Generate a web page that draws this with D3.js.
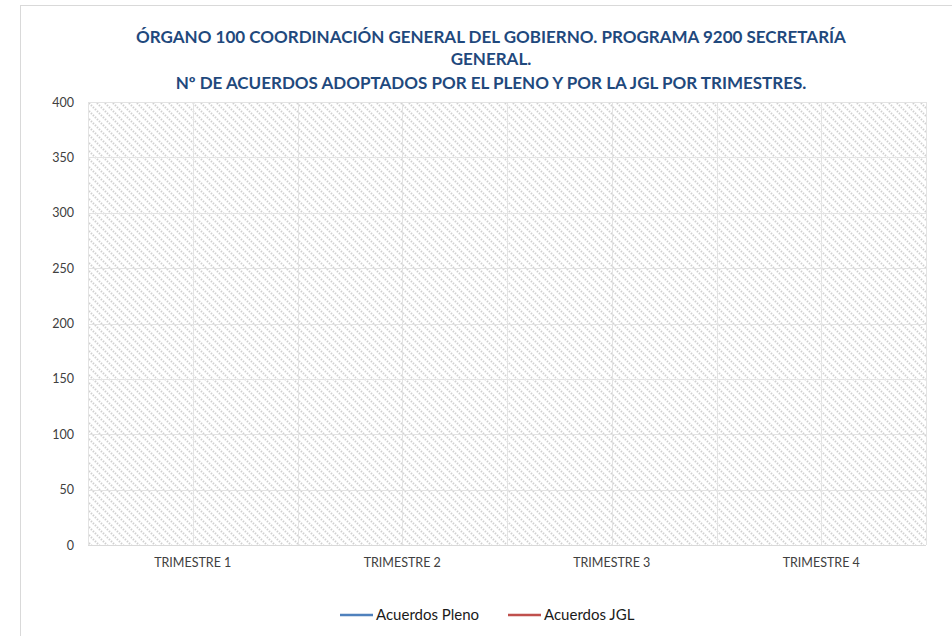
<!DOCTYPE html>
<html>
<head>
<meta charset="utf-8">
<script src="https://cdn.jsdelivr.net/npm/d3@7"></script>
<style>
  html, body { margin: 0; padding: 0; background: #fff; }
  svg { display: block; font-family: Lato, "Open Sans", sans-serif; }
</style>
</head>
<body>
<svg id="chart" width="952" height="636"></svg>
<script>
// Categories and series (the chart has no plotted values)
const categories = ["TRIMESTRE 1", "TRIMESTRE 2", "TRIMESTRE 3", "TRIMESTRE 4"];
const acuerdosPleno = [null, null, null, null];
const acuerdosJGL = [null, null, null, null];
const yTicks = [0, 50, 100, 150, 200, 250, 300, 350, 400];
const titleLines = [
  "ÓRGANO 100 COORDINACIÓN GENERAL DEL GOBIERNO. PROGRAMA 9200 SECRETARÍA",
  "GENERAL.",
  "Nº DE ACUERDOS ADOPTADOS POR EL PLENO Y POR LA JGL POR TRIMESTRES."
];
const seriesNames = ["Acuerdos Pleno", "Acuerdos JGL"];
const seriesColors = ["#4F81BD", "#C0504D"];

const margin = { top: 102, right: 26, bottom: 91, left: 88 };
const svg = d3.select("#chart");
const width = 952 - margin.left - margin.right;
const height = 636 - margin.top - margin.bottom;

// outer chart border
svg.append("rect")
  .attr("x", 20.5).attr("y", 5.5)
  .attr("width", 960).attr("height", 660)
  .attr("fill", "#fff")
  .attr("stroke", "#d9d9d9");

// hatch pattern for plot area
const defs = svg.append("defs");
const pat = defs.append("pattern")
  .attr("id", "hatch")
  .attr("patternUnits", "userSpaceOnUse")
  .attr("width", 8).attr("height", 8);
pat.append("rect").attr("width", 8).attr("height", 8).attr("fill", "#fff");
pat.append("path")
  .attr("d", "M-1,-1 L9,9 M-1,7 L1,9 M7,-1 L9,1")
  .attr("stroke", "#d0d0d0")
  .attr("stroke-width", 2)
  .attr("stroke-dasharray", "1.4,1.4");

const chart = svg.append("g")
  .attr("transform", `translate(${margin.left},${margin.top})`);

const xScale = d3.scaleBand().domain(categories).range([0, width]);
const yScale = d3.scaleLinear().domain([0, 400]).range([height, 0]);

chart.append("rect")
  .attr("width", width).attr("height", height)
  .attr("fill", "url(#hatch)");

// horizontal gridlines
chart.append("g")
  .selectAll("line")
  .data(yTicks)
  .join("line")
  .attr("x1", 0).attr("x2", width)
  .attr("y1", d => Math.round(yScale(d)) + 0.5)
  .attr("y2", d => Math.round(yScale(d)) + 0.5)
  .attr("stroke", "#e3e3e3");

// vertical gridlines at category edges and centres
const vLines = [];
categories.forEach(c => {
  vLines.push(xScale(c));
  vLines.push(xScale(c) + xScale.bandwidth() / 2);
});
vLines.push(width);
chart.append("g")
  .selectAll("line")
  .data(vLines)
  .join("line")
  .attr("x1", d => Math.round(d) + 0.5).attr("x2", d => Math.round(d) + 0.5)
  .attr("y1", 0).attr("y2", height)
  .attr("stroke", "#e3e3e3");

// x axis baseline
chart.append("line")
  .attr("x1", 0).attr("x2", width)
  .attr("y1", Math.round(height) + 0.5).attr("y2", Math.round(height) + 0.5)
  .attr("stroke", "#d9d9d9");

// y axis labels
const yAxis = d3.axisLeft(yScale).tickValues(yTicks).tickSize(0).tickPadding(14);
const yAxisG = chart.append("g").call(yAxis)
  .attr("font-family", null).attr("font-size", null);
yAxisG.select(".domain").remove();
yAxisG.selectAll("text")
  .style("font-size", "12.5px")
  .attr("fill", "#404040");

// x axis labels
const xAxis = d3.axisBottom(xScale).tickSize(0).tickPadding(13);
const xAxisG = chart.append("g")
  .attr("transform", `translate(0,${height})`)
  .call(xAxis)
  .attr("font-family", null).attr("font-size", null);
xAxisG.select(".domain").remove();
xAxisG.selectAll("text")
  .style("font-size", "12.5px")
  .attr("fill", "#404040");

// series lines (empty data -> nothing drawn)
const line = d3.line()
  .defined(d => d != null)
  .x((d, i) => xScale(categories[i]) + xScale.bandwidth() / 2)
  .y(d => yScale(d));
[acuerdosPleno, acuerdosJGL].forEach((s, i) => {
  chart.append("path")
    .datum(s)
    .attr("fill", "none")
    .attr("stroke", seriesColors[i])
    .attr("stroke-width", 2.25)
    .attr("d", line);
});

// title, sized so the first line spans the same width as the original
const titleY = [43, 65, 89];
const titles = titleLines.map((t, i) =>
  svg.append("text")
    .attr("x", 491).attr("y", titleY[i])
    .attr("text-anchor", "middle")
    .style("font-size", "15px")
    .style("font-weight", "bold")
    .attr("fill", "#1F497D")
    .text(t));
const w0 = titles[0].node().getComputedTextLength();
const fs = Math.min(17, 15 * 714 / w0);
titles.forEach(t => t.style("font-size", fs + "px"));

// legend
const legendX = [340, 508];
seriesNames.forEach((n, i) => {
  const g = svg.append("g").attr("transform", `translate(${legendX[i]},615)`);
  g.append("line")
    .attr("x1", 0).attr("x2", 33)
    .attr("stroke", seriesColors[i])
    .attr("stroke-width", 2.5);
  g.append("text")
    .attr("x", 36).attr("y", 5)
    .style("font-size", "15px")
    .attr("fill", "#1a1a1a")
    .text(n);
});
</script>
</body>
</html>
